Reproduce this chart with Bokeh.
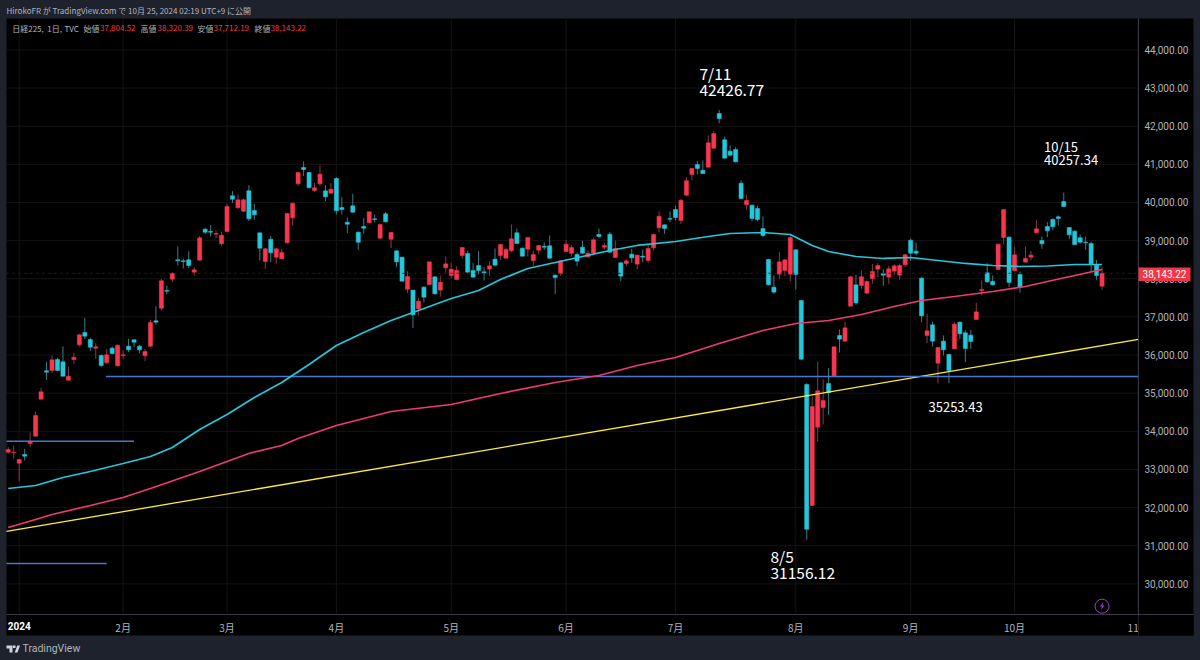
from bokeh.plotting import figure
from bokeh.models import (Range1d, FixedTicker, NumeralTickFormatter, Label, BoxAnnotation,
                          PolyAnnotation, LinearAxis)
from bokeh.embed import file_html
from bokeh.resources import INLINE

opens = [33453,33436,33165,33392,33681,33873,34843,35586,35594,35883,
35822,35341,35883,36268,36591,36407,36180,35988,35796,36180,
35717,35988,36233,36399,36233,35979,36233,36897,37229,37692,
37989,38496,38470,38496,38173,38488,39300,39239,39169,38916,
39239,40174,39860,39772,40305,39790,39204,38453,39038,38566,
38522,38942,39598,40489,40917,40786,40314,40489,40305,40244,
40629,39868,39484,39912,39222,39370,39466,39571,39064,39702,
39038,38732,38566,37727,37701,37212,37780,37849,38050,37701,
38287,38085,37981,38610,38662,38217,38348,38182,38252,38514,
38610,38540,38732,39204,38802,38776,38479,38750,38855,38863,
38094,38138,38715,38671,38636,38828,38575,38671,39161,38828,
39169,38558,38418,38400,38645,38383,38592,38479,38811,39335,
39414,39580,39816,39528,40192,40734,40996,40847,40926,41424,
42333,41643,41345,41389,40506,39938,39930,39842,39318,38505,
37780,38120,38217,38120,38758,37430,35228,32055,34109,34625,
35254,35455,36513,36364,37282,37841,37824,37623,38007,38252,
38138,38042,38200,38095,38366,39012,38724,38016,36513,36792,
35787,36364,36015,36163,36862,36583,36521,36932,37693,38156,
37929,38243,39082,39091,38209,38112,38436,38567,39205,39004,
39371,39554,39624,40026,39345,39249,39074,38960,38925,38357,
37804.52]
highs = [33584,33628,33279,33541,33969,34520,35140,35822,35988,35927,
36224,35699,36058,36556,36976,36451,36311,36014,36163,36224,
36276,36119,36425,36416,36268,36163,36923,37273,37998,37823,
38173,38846,38531,38723,38304,39126,39335,39405,39265,39230,
39965,40297,40209,40104,40454,39965,39204,38811,39126,38802,
38785,39729,39982,40804,41075,40804,40515,40970,40454,40507,
40664,40139,39606,40227,39239,39598,39764,39685,39440,39755,
39230,38741,38575,38199,37710,37500,37797,38453,38068,38085,
38584,38418,38330,38828,38741,38409,38723,38304,38461,38793,
38916,38811,39423,39318,38820,39099,38741,38881,38951,39134,
38112,38488,39021,38881,38689,38994,38741,39073,39318,38933,
39230,39003,38444,38505,38785,38636,38767,38898,39178,39764,
39423,39764,39912,40087,40664,40909,41092,41101,41756,41870,
42426.77,41730,41494,41450,40576,40201,39947,39912,39632,38523,
38086,38697,38514,39134,38767,37448,35263,34913,35831,35368,
35656,36224,36670,36862,38077,38103,38217,37955,38392,38409,
38252,38348,38374,38392,38654,39056,38951,38042,37081,36871,
36207,36513,36032,36862,36880,36644,36661,37369,37955,38410,
38086,38916,39817,39109,38846,38191,38846,38724,39546,39109,
39485,39589,39659,40257.34,39353,39266,39161,39109,38969,38497,
38320.39]
lows = [33410,33279,32693,33235,33584,33873,34843,35350,35525,35577,
35437,35332,35769,36224,36425,36102,35900,35682,35769,36014,
35699,35900,36075,36206,36049,35839,36206,36801,37168,37587,
37911,38348,38269,38278,38085,38479,39178,39108,39064,38863,
39222,39991,39833,39746,39510,39545,38479,38260,38435,38392,
38522,38933,39396,40437,40699,40375,40279,40437,40035,40244,
39685,39685,39196,39737,38758,39178,39458,39475,39056,39475,
38802,38304,37928,37622,36705,37037,37378,37841,37587,37535,
38164,38007,37972,38531,38155,38033,38112,37954,38077,38321,
38496,38531,38697,38916,38584,38584,38348,38636,38758,38522,
37605,38077,38697,38584,38330,38654,38549,38654,39073,38767,
38680,38549,37937,38330,38418,38252,38435,38418,38741,39213,
39178,39484,39528,39432,40166,40585,40734,40760,40917,41415,
42080,41153,41206,41048,40096,39816,39510,39510,39091,37823,
37605,37998,38068,37937,37718,35866,31156.12,32047,33733,34179,
34433,35438,36067,36355,37273,37317,37736,37605,37867,38042,
37815,37867,38086,37972,38304,38470,38610,36862,36312,36224,
35253.43,35988,35260,36163,36425,35813,36163,36932,37562,37894,
37824,38235,38899,37780,38200,37632,38427,38479,39196,38785,
39091,39266,39397,39887,39039,38890,38916,38759,38174,37972,
37712.19]
closes = [33523,33453,33261,33348,33742,34415,35035,35551,35874,35594,
35446,35446,35944,36530,36495,36206,36215,35726,36005,36040,
36259,36005,36136,36338,36136,36093,36853,36862,37946,37675,
38138,38470,38453,38348,38234,39073,39222,39222,39187,39143,
39895,40087,40070,40070,39571,39676,38802,38785,38680,38785,
38689,39711,39982,40786,40865,40384,40384,40742,40148,40349,
39781,39816,39431,39746,38960,39327,39755,39554,39423,39493,
39213,38444,37937,38059,37054,37413,37517,38444,37605,37911,
38392,38252,38217,38820,38173,38042,38217,38155,38339,38356,
38898,38767,39047,38925,38592,39082,38636,38872,38828,38540,
38033,38470,38907,38820,38461,38671,38671,39021,39108,38872,
38697,38793,38068,38470,38549,38619,38566,38793,39161,39641,
39318,39563,39606,40061,40568,40891,40891,40760,41564,41809,
42202,41162,41241,41066,40104,40052,39580,39554,39134,37841,
37649,38444,38496,39082,38112,35892,31435,34651,35062,34808,
35009,36216,36417,36714,38051,37369,38051,37929,38191,38348,
38095,38261,38339,38348,38628,38671,38671,37028,36635,36364,
36198,36137,35595,36810,36556,36172,36355,37133,37719,37920,
37841,38908,39817,37903,38628,37780,38532,38619,39310,38916,
39257,39362,39581,39895,39152,38899,38960,38943,38392,38086,
38143.22]

ma_slow_idx = [0,5,10,15,21,26,30,35,40,45,50,55,60,65,70,75,81,86,90,95,100,105,110,115,122,128,132,138,143,147,150,155,160,165,170,175,180,185,190,195,200]
ma_slow_val = [32501,32580,32790,32947,33157,33340,33576,34048,34441,34887,35280,35752,36251,36591,36906,37168,37483,37693,37981,38269,38427,38584,38741,38873,38977,39109,39187,39213,39161,38873,38715,38584,38532,38558,38479,38401,38348,38322,38335,38374,38374]
ma_long_idx = [0,5,8,15,21,26,35,40,44,50,53,60,70,81,90,100,108,115,122,130,138,144,150,156,162,167,173,180,186,190,195,200]
ma_long_val = [31479,31688,31819,32055,32265,32501,32947,33209,33419,33629,33812,34153,34520,34704,34992,35280,35464,35726,35936,36303,36644,36827,36906,37063,37273,37430,37535,37666,37797,37929,38086,38243]
trend_idx = [-0.32, 206.66]
trend_val = [31374, 36408]
hline_mid = ([17.85, 206.66], [35437, 35437])
hline_up = ([-0.32, 23], [33742, 33742])
hline_low = ([-0.32, 18], [30534, 30534])
alert_icon = ([200.0], [29415])

price_ticks = list(range(30000, 45000, 1000))
month_ticks = [2, 21, 40, 60, 81, 102, 122, 144, 165, 184, 206.6]
month_labels = ["", "2月", "3月", "4月", "5月", "6月", "7月", "8月", "9月", "10月", "11月"]

PANEL = "#1e222d"; UP = "#f7374f"; DOWN = "#26c6da"; UPW = "#8a3a44"; DOWNW = "#3d7d86"
GREY = "#b2b5be"; GRID = "#141414"; CJK = "Noto Sans CJK JP"
X0, X1, Y0, Y1 = -0.32, 206.66, 29197, 44824

p = figure(width=1200, height=660, output_backend="svg", toolbar_location=None,
           x_range=Range1d(-1.419, 218.0), y_range=Range1d(27991, 45296),
           x_axis_location=None, y_axis_location=None, min_border=0,
           background_fill_color=PANEL, border_fill_color=PANEL, outline_line_color=None)
p.grid.visible = False

def box(l, r, t, b, color, level="annotation"):
    p.add_layout(BoxAnnotation(left=l, right=r, top=t, bottom=b, left_units="canvas", right_units="canvas",
                               top_units="canvas", bottom_units="canvas", fill_color=color, fill_alpha=1,
                               line_color=None, level=level))
def txt(x, y, s, size=9.5, color=GREY, font=CJK, style="normal", align="left"):
    p.add_layout(Label(x=x, y=y, x_units="canvas", y_units="canvas", text=s, text_font=font,
                       text_font_size=f"{size}px", text_color=color, text_font_style=style,
                       text_align=align, text_baseline="middle", level="annotation"))
def poly(xs, ys, fill):
    p.add_layout(PolyAnnotation(xs=xs, ys=ys, xs_units="canvas", ys_units="canvas", fill_color=fill, fill_alpha=1,
                                line_color=None, level="annotation"))

box(6, 1193, 18, 635, "#000000", "underlay")

xa = LinearAxis(fixed_location=Y0, bounds=(X0, 216.7))
xa.ticker = FixedTicker(ticks=month_ticks)
xa.major_label_overrides = dict(zip(month_ticks, month_labels))
ya = LinearAxis(fixed_location=X1, bounds=(28647, Y1))
ya.ticker = FixedTicker(ticks=price_ticks)
ya.formatter = NumeralTickFormatter(format="0,0.00")
for a in (xa, ya):
    a.axis_line_color = "#363a45"
    a.major_tick_line_color = None; a.minor_tick_line_color = None
    a.major_tick_out = 0; a.major_tick_in = 0
    a.major_label_text_color = GREY; a.major_label_text_font = "Roboto"
    a.major_label_text_font_size = "10px"
xa.major_label_text_font = CJK
xa.major_label_standoff = 5; ya.major_label_standoff = 6
p.add_layout(xa, "below"); p.add_layout(ya, "right")

p.segment(month_ticks, Y0, month_ticks, Y1, color=GRID, line_width=1)
p.segment(X0, price_ticks, X1, price_ticks, color=GRID, line_width=1)

idx = list(range(len(opens)))
up = [c >= o for o, c in zip(opens, closes)]
p.segment(idx, highs, idx, lows, line_width=1, color=[UPW if u else DOWNW for u in up])
p.vbar(x=idx, width=0.76, top=[max(o, c) for o, c in zip(opens, closes)],
       bottom=[min(o, c) for o, c in zip(opens, closes)], fill_color=[UP if u else DOWN for u in up],
       line_color=[UP if u else DOWN for u in up], line_width=0.5)

p.line([X0, X1], [closes[-1], closes[-1]], color="#4a141c", line_width=1, line_dash="dotted")
p.line(trend_idx, trend_val, color="#ffeb3b", line_width=1.3)
for xs, ys in (hline_mid, hline_up, hline_low):
    p.line(xs, ys, color="#4678d0", line_width=1.5)
p.line(ma_slow_idx, ma_slow_val, color="#26c6da", line_width=1.7)
p.line(ma_long_idx, ma_long_val, color="#ec3c6e", line_width=1.7)
p.scatter(alert_icon[0], alert_icon[1], marker="circle", size=14, fill_alpha=0, line_color="#9c3fc4", line_width=1)

box(1138, 1193, 615, 635, "#000000")

txt(6, 10, "HirokoFR が TradingView.com で 10月 25, 2024 02:19 UTC+9 に公開", 8)
for x, s in ((11.7, "日経225,"), (46.7, "1日,"), (64, "TVC"), (83, "始値"), (140, "高値"), (197, "安値"), (254, "終値")):
    txt(x, 27.5, s, 8)
for x, s in ((99.5, "37,804.52"), (157, "38,320.39"), (213, "37,712.19"), (270, "38,143.22")):
    txt(x, 27.5, s, 8, "#f23645")
for x, y, s, size in ((699, 72, "7/11", 15.5), (699, 89, "42426.77", 15.5), (1043.5, 146, "10/15", 13),
                      (1043.5, 159.5, "40257.34", 13), (770, 555, "8/5", 15.5), (770, 572, "31156.12", 15.5),
                      (928, 406.5, "35253.43", 13)):
    txt(x, y, s, size, "#ffffff")
txt(18.7, 625, "2024", 10, "#ffffff", "Roboto", "bold", "center")
box(1138, 1190, 267, 280.5, "#f23645")
txt(1164, 273.5, "38,143.22", 10, "#ffffff", "Roboto", "normal", "center")
txt(22, 648, "TradingView", 10.5, GREY, "Roboto")

poly([6, 12, 12, 9, 9, 6], [645, 645, 652, 652, 648, 648], "#d1d4dc")
poly([12.5, 15, 15, 12.5], [645, 645, 647.5, 647.5], "#d1d4dc")
poly([14.2, 16.8, 19.5, 17], [652, 645, 645, 652], "#d1d4dc")
poly([1103, 1099.5, 1101.5, 1100.5, 1104, 1102], [601.5, 606, 606, 609.5, 605, 605], "#9c3fc4")

html = file_html(p, INLINE)
html = html.replace("</head>", "<style>html,body{margin:0;background:#1e222d;overflow:hidden}</style></head>", 1)
open("out.html", "w").write(html)
